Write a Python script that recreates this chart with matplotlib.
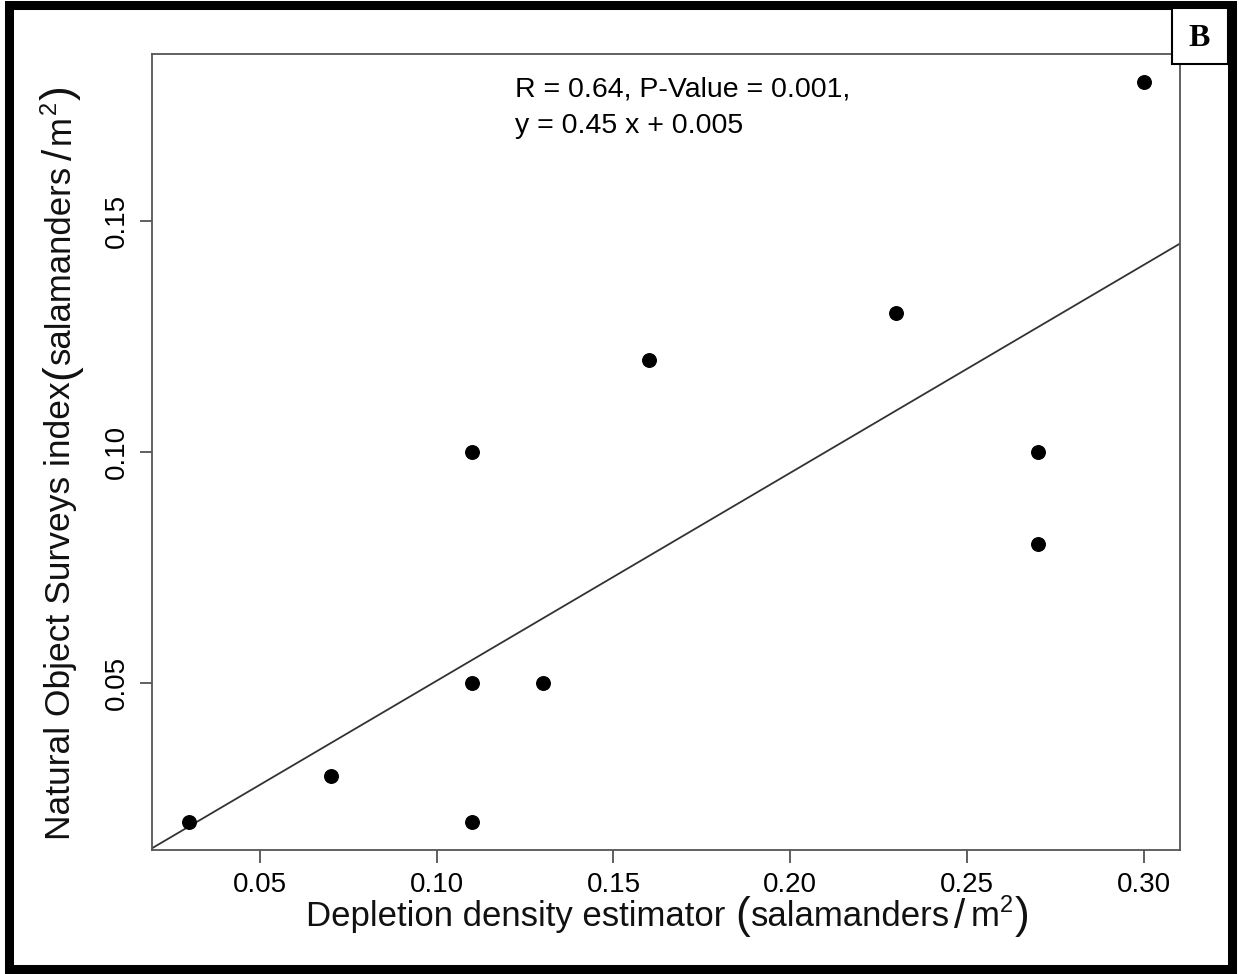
import numpy as np
import matplotlib
matplotlib.use('Agg')
import matplotlib.pyplot as plt
from matplotlib.patches import Rectangle
from matplotlib.transforms import IdentityTransform

plt.rcParams['font.family'] = ['Liberation Sans', 'DejaVu Sans']

# depletion estimate vs natural object survey index
depletion = [0.03, 0.07, 0.11, 0.11, 0.13, 0.11, 0.16, 0.23, 0.27, 0.27, 0.30]
nos_index = [0.02, 0.03, 0.02, 0.05, 0.05, 0.10, 0.12, 0.13, 0.10, 0.08, 0.18]
fit_slope = 0.45
fit_intercept = 0.0055
xticks = [0.05, 0.10, 0.15, 0.20, 0.25, 0.30]
yticks = [0.05, 0.10, 0.15]
xlab = 'Depletion density estimator'
ylab = 'Natural Object Surveys index'
unit = 'salamanders'

W, H = 1239, 974
fig = plt.figure(figsize=(W / 100, H / 100), dpi=100)
ax = fig.add_axes([152 / W, (H - 850) / H, (1180 - 152) / W, (850 - 54) / H])

ax.scatter(depletion, nos_index, s=95, color='black', zorder=3)

xlim = (0.0195, 0.3102)
ylim = (0.0139, 0.1861)
xx = np.array(xlim)
ax.plot(xx, fit_slope * xx + fit_intercept, color='#333333', lw=1.3)
ax.set_xlim(xlim)
ax.set_ylim(ylim)

ax.set_xticks(xticks)
ax.set_xticklabels([f'{v:.2f}' for v in xticks])
ax.set_yticks(yticks)
ax.set_yticklabels([f'{v:.2f}' for v in yticks], rotation=90, va='center')
ax.tick_params(axis='both', labelsize=20, length=9, width=1.2, color='#444444', pad=7)

for s in ax.spines.values():
    s.set_color('#555555')
    s.set_linewidth(1.3)

ax.text(0.1222, 0.1784, 'R = 0.64, P-Value = 0.001,', fontsize=20.5, va='center', ha='left')
ax.text(0.1222, 0.1706, 'y = 0.45 x + 0.005', fontsize=20.5, va='center', ha='left')

fig.canvas.draw()
rend = fig.canvas.get_renderer()


def label_run(pieces, x0, y0, vertical=False):
    # pieces: (text, size, gap_before, raise); x0, y0 in pixels from top-left
    pos = 0.0
    for txt, size, gap, up in pieces:
        pos += gap
        if vertical:
            px, py = x0 - up, H - (y0 - pos)
        else:
            px, py = x0 + pos, H - y0 + up
        t = fig.text(px, py, txt, fontsize=size, transform=IdentityTransform(),
                     ha='left', va='baseline', rotation=90 if vertical else 0,
                     rotation_mode='anchor', color='#111111')
        bb = t.get_window_extent(rend)
        pos += bb.height if vertical else bb.width


unit_pieces = [('(', 32, 10, -2), (unit, 25, 1, 0), ('/', 29, 4, -2),
               ('m', 25, 5, 0), ('2', 17, 1, 14), (')', 32, 1, -2)]
label_run([(xlab, 25, 0, 0)] + unit_pieces, 306, 926)
ypieces = [(ylab, 25.5, 0, 0)] + [(p[0], p[1], 2 if i == 0 else p[2], p[3])
                                   for i, p in enumerate(unit_pieces)]
label_run(ypieces, 70, 840, vertical=True)

# outer frame and panel letter
fig.patches.append(Rectangle((8.5 / W, 5 / H), (1232 - 8.5) / W, (969 - 5) / H,
                             transform=fig.transFigure, fill=False, ec='black', lw=6.5))
fig.patches.append(Rectangle((1172 / W, (H - 64) / H), (1228 - 1172) / W, (64 - 8) / H,
                             transform=fig.transFigure, fill=True, fc='white', ec='black', lw=1.5))
fig.text(1199 / W, (H - 38) / H, 'B', fontsize=23, fontweight='bold',
         family='Liberation Serif', ha='center', va='center')

fig.savefig('out.png', dpi=100)
